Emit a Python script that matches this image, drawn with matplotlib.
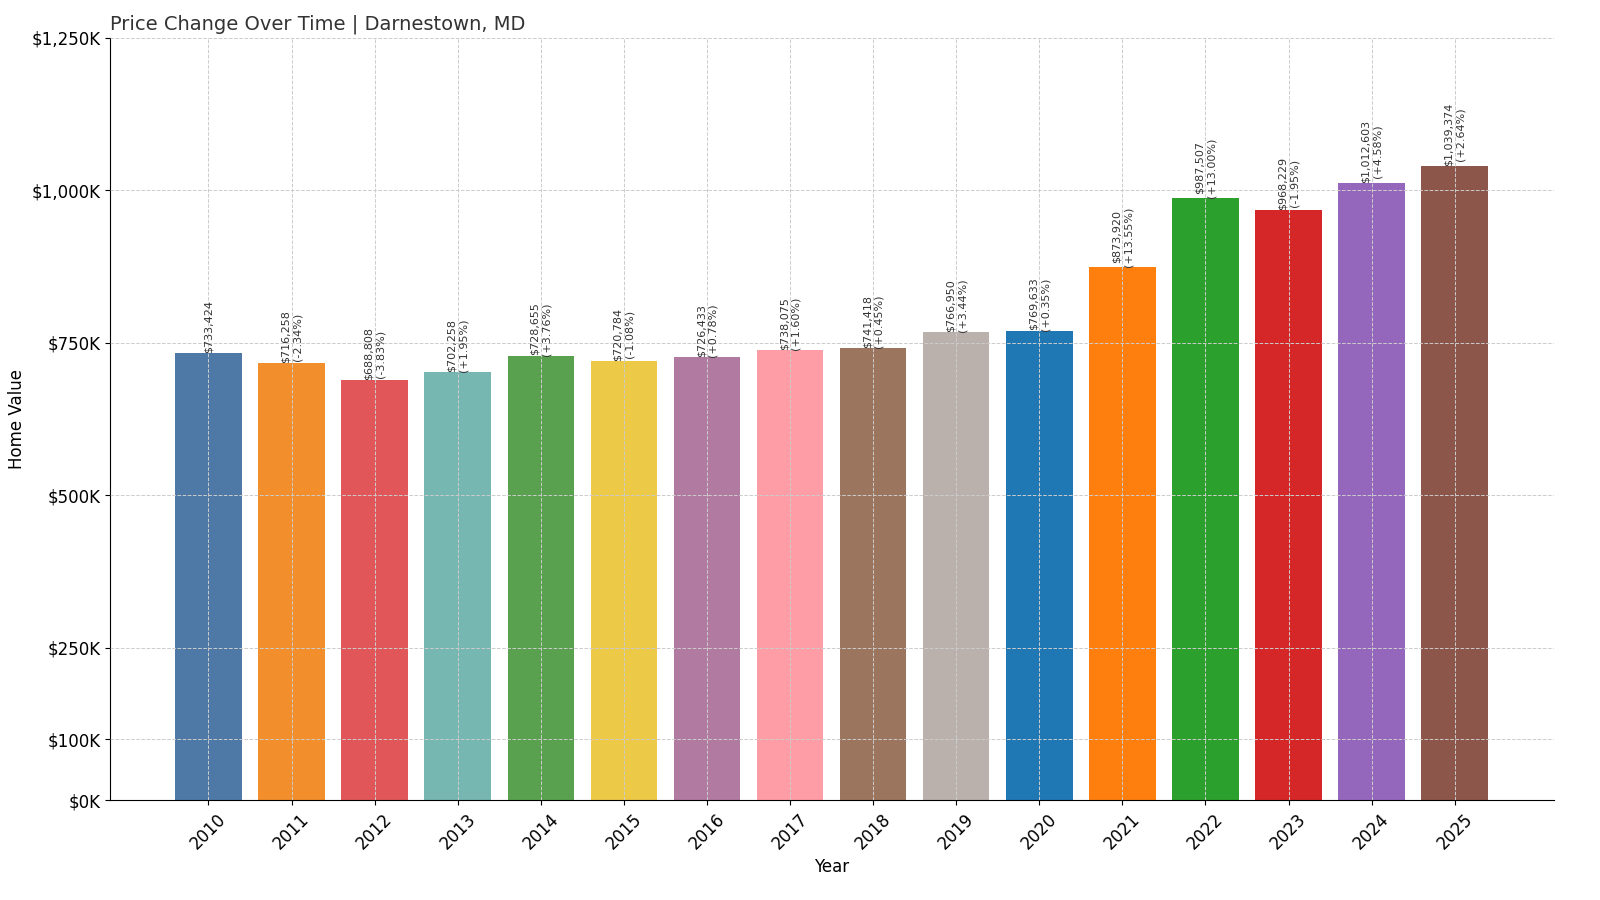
import matplotlib.pyplot as plt
from matplotlib.ticker import FuncFormatter

years = list(range(2010, 2026))
values = [733424, 716258, 688808, 702258, 728655, 720784, 726433, 738075,
          741418, 766950, 769633, 873920, 987507, 968229, 1012603, 1039374]
changes = [None, -2.34, -3.83, 1.95, 3.76, -1.08, 0.78, 1.60,
           0.45, 3.44, 0.35, 13.55, 13.00, -1.95, 4.58, 2.64]
colors = ['#4e79a7', '#f28e2b', '#e15759', '#76b7b2', '#59a14f', '#edc948',
          '#b07aa1', '#ff9da7', '#9c755f', '#bab0ac',
          '#1f77b4', '#ff7f0e', '#2ca02c', '#d62728', '#9467bd', '#8c564b']
yticks = [0, 100000, 250000, 500000, 750000, 1000000, 1250000]

fig = plt.figure(figsize=(16, 9), dpi=100)
ax = fig.add_axes([0.069, 0.111, 0.902, 0.847])

ax.bar(years, values, color=colors, width=0.8, zorder=2)

for yr, v, c in zip(years, values, changes):
    if c is None:
        txt = f"${v:,.0f}"
    else:
        txt = f"${v:,.0f}\n({c:+.2f}%)"
    ax.text(yr, v, txt, rotation=90, ha='center', va='bottom',
            fontsize=8, color='#333333', zorder=3)

ax.set_ylim(0, 1250000)
ax.set_xlim(2008.82, 2026.19)
ax.set_yticks(yticks)
ax.yaxis.set_major_formatter(FuncFormatter(lambda x, p: f"${x/1000:,.0f}K"))
ax.set_xticks(years)
ax.set_xticklabels([str(y) for y in years], rotation=45, fontsize=12)
ax.tick_params(axis='y', labelsize=12)

ax.grid(True, linestyle='--', color='#cccccc', linewidth=0.7, zorder=0)
ax.set_axisbelow(False)
for s in ['top', 'right']:
    ax.spines[s].set_visible(False)

ax.set_xlabel('Year', fontsize=12)
ax.set_ylabel('Home Value', fontsize=12)
ax.set_title('Price Change Over Time | Darnestown, MD', loc='left',
             fontsize=14, color='#333333')

fig.savefig('out.png', dpi=100)
